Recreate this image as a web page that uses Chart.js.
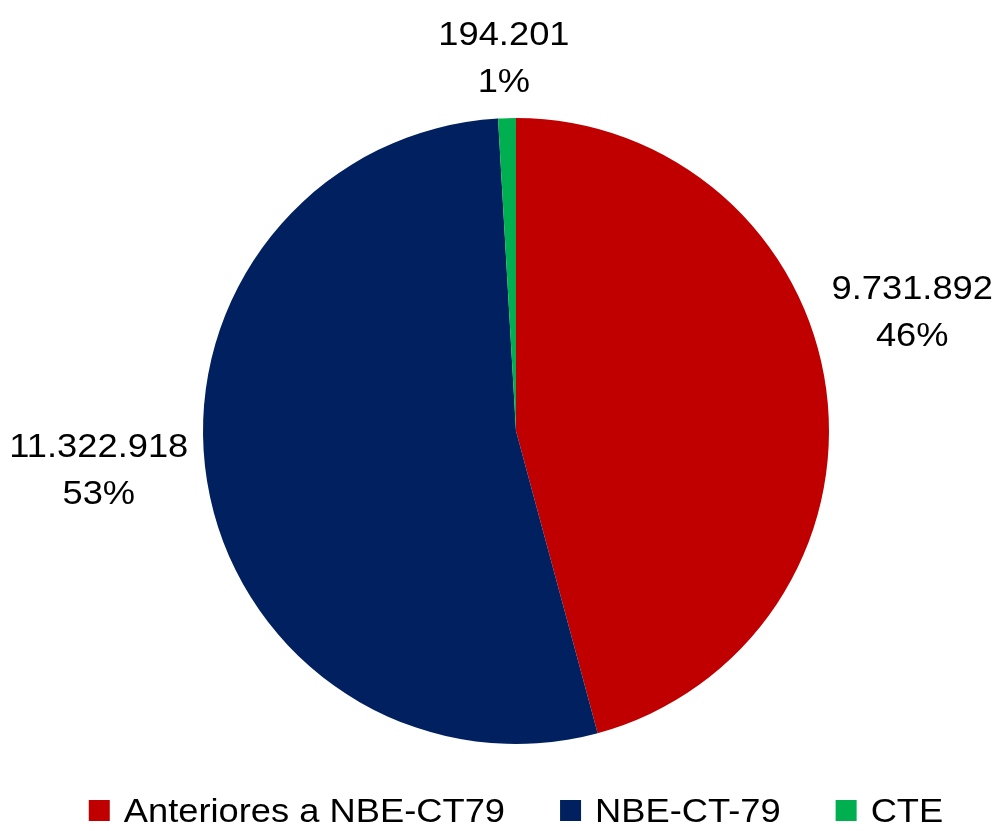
<!DOCTYPE html>
<html><head><meta charset="utf-8">
<script src="https://cdn.jsdelivr.net/npm/chart.js@4"></script>
<style>html,body{margin:0;padding:0;background:#fff;} #wrap{width:1000px;height:831px;position:relative}</style>
</head><body><div id="wrap"><canvas id="c"></canvas></div>
<script>
const categories = ['Anteriores a NBE-CT79', 'NBE-CT-79', 'CTE'];
const values = [9731892, 11322918, 194201];
const percentLabels = ['46%', '53%', '1%'];
const colors = ['#C00000', '#002060', '#00B050'];

function fmt(n){ return String(n).replace(/\B(?=(\d{3})+(?!\d))/g, '.'); }
const FONT = '33px "Liberation Sans", Arial, Helvetica, sans-serif';
const XS = 1.1;

const labelPlugin = {
  id: 'outLabels',
  afterDatasetsDraw(chart, args, opts){
    const ctx = chart.ctx;
    const meta = chart.getDatasetMeta(0);
    meta.data.forEach((arc, i) => {
      const p = arc.getProps(['x','y','startAngle','endAngle','outerRadius'], true);
      const mid = (p.startAngle + p.endAngle) / 2;
      const c = Math.cos(mid), s = Math.sin(mid);
      const l1 = fmt(values[i]), l2 = percentLabels[i];
      ctx.save();
      ctx.font = FONT;
      const w = Math.max(ctx.measureText(l1).width, ctx.measureText(l2).width) * XS;
      const h = opts.lineGap + 24;
      const ax = p.x + c * (p.outerRadius + opts.gap);
      const ay = p.y + s * (p.outerRadius + opts.gap);
      const sh = opts.shift[i] || [0, 0];
      const cx = ax + c * w / 2 + sh[0];
      const cy = ay + s * h / 2 + sh[1];
      ctx.fillStyle = '#000';
      ctx.textAlign = 'center';
      ctx.textBaseline = 'alphabetic';
      ctx.translate(cx, 0);
      ctx.scale(XS, 1);
      ctx.fillText(l1, 0, cy - opts.lineGap / 2 + 12);
      ctx.fillText(l2, 0, cy + opts.lineGap / 2 + 12);
      ctx.restore();
    });
  }
};

const legendPlugin = {
  id: 'bottomLegend',
  afterDraw(chart, args, opts){
    const ctx = chart.ctx;
    ctx.save();
    ctx.font = FONT;
    const items = categories.map((t, i) => ({ t, c: colors[i], w: ctx.measureText(t).width * XS }));
    const total = items.reduce((a, it) => a + opts.box + opts.boxGap + it.w, 0) + opts.itemGap * (items.length - 1);
    const ca = chart.chartArea;
    let x = (ca.left + ca.right) / 2 - total / 2;
    const y = chart.height - opts.bottom;
    items.forEach(it => {
      ctx.fillStyle = it.c;
      ctx.fillRect(x, y - opts.box / 2, opts.box, opts.box);
      x += opts.box + opts.boxGap;
      ctx.save();
      ctx.translate(x, y + 11);
      ctx.scale(XS, 1);
      ctx.fillStyle = '#000';
      ctx.textAlign = 'left';
      ctx.textBaseline = 'alphabetic';
      ctx.fillText(it.t, 0, 0);
      ctx.restore();
      x += it.w + opts.itemGap;
    });
    ctx.restore();
  }
};

new Chart(document.getElementById('c'), {
  type: 'pie',
  data: {
    labels: categories,
    datasets: [{ data: values, backgroundColor: colors, borderWidth: 0 }]
  },
  options: {
    responsive: true,
    maintainAspectRatio: false,
    animation: false,
    layout: { padding: { top: 118, bottom: 87, left: 203, right: 171 } },
    plugins: {
      legend: { display: false },
      tooltip: { enabled: false },
      outLabels: { gap: 8, lineGap: 47, shift: [[-2, -74], [-12, -20], [-1, -18]] },
      bottomLegend: { box: 21, boxGap: 14, itemGap: 55, bottom: 20.5 }
    }
  },
  plugins: [labelPlugin, legendPlugin]
});
</script>
</body></html>
